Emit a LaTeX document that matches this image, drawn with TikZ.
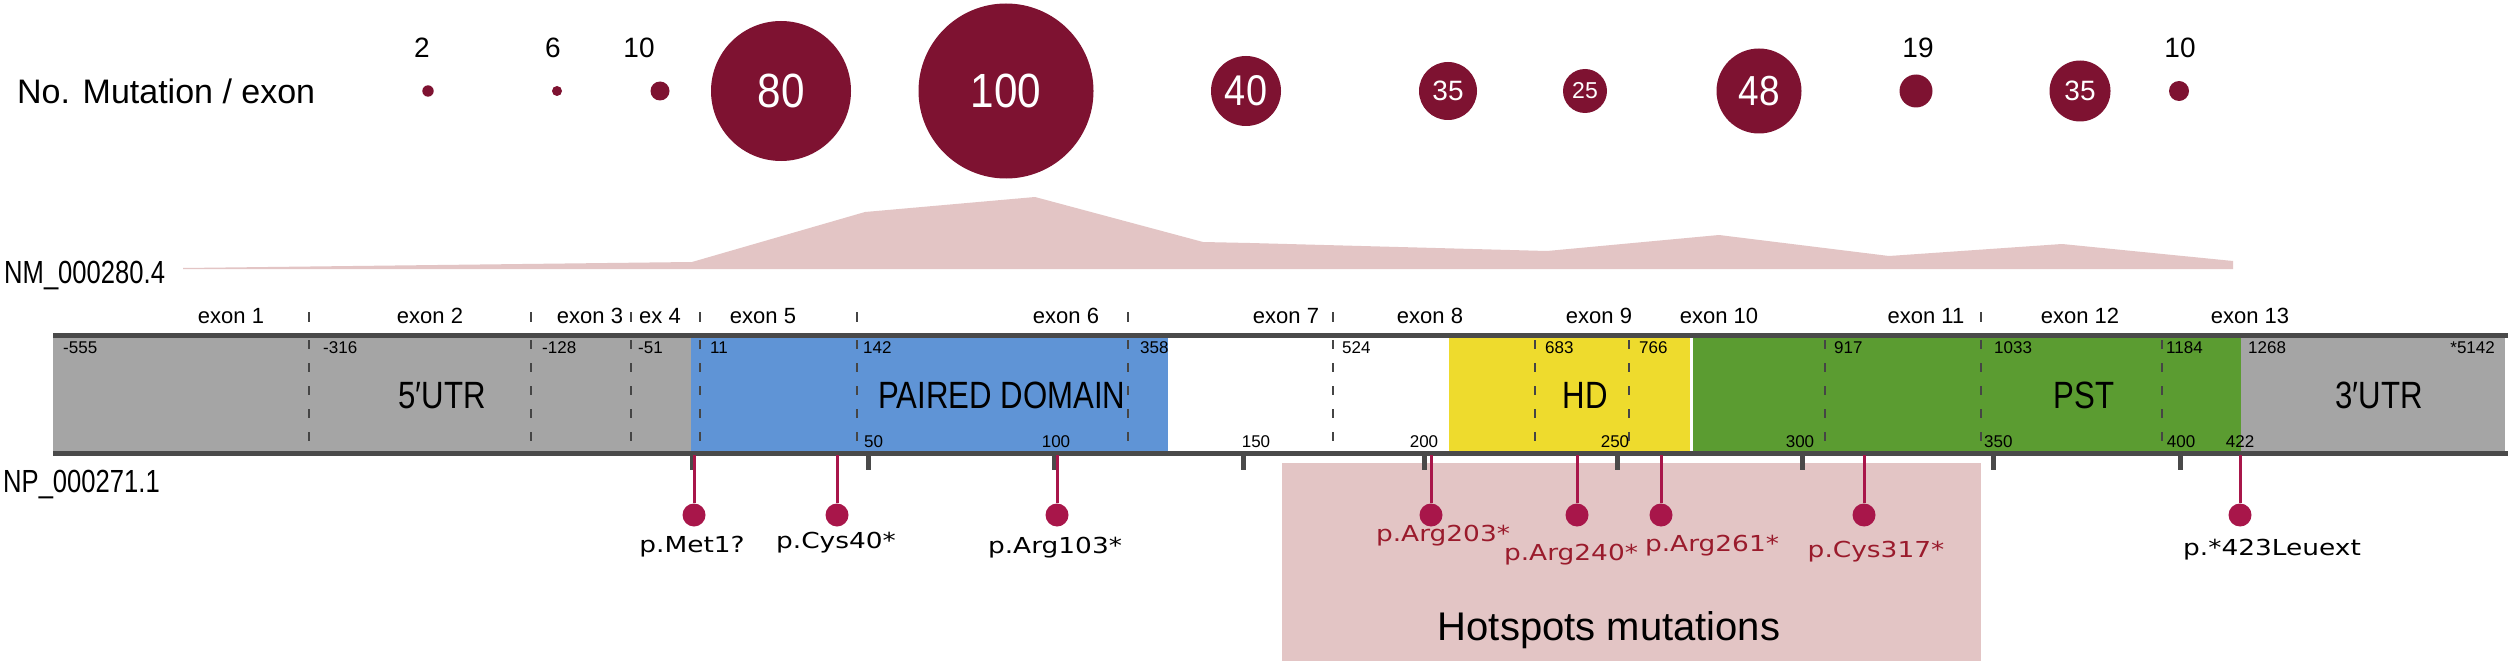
\documentclass[tikz,border=0pt]{standalone}
\usepackage{fontspec}
\setmainfont{Liberation Sans}
\newfontfamily\fcond[FakeStretch=0.82]{Liberation Sans}
\newfontfamily\fmid[FakeStretch=0.88]{Liberation Sans}
\newfontfamily\fnar[FakeStretch=0.8]{Liberation Sans}
\newfontfamily\flol[FakeStretch=1.2]{DejaVu Sans}
\newcommand{\myfs}[1]{\fontsize{#1}{#1}\selectfont}
\definecolor{circ}{HTML}{7E1231}
\definecolor{areac}{HTML}{E3C5C5}
\definecolor{grayf}{HTML}{A5A5A5}
\definecolor{bluef}{HTML}{5F94D6}
\definecolor{yellowf}{HTML}{EEDB2D}
\definecolor{greenf}{HTML}{5B9C31}
\definecolor{barc}{HTML}{4A4A4A}
\definecolor{dashc}{HTML}{454545}
\definecolor{lolc}{HTML}{A8164A}
\definecolor{mutred}{HTML}{9A1B2C}
\tikzset{
 cnt/.style={circle, fill=circ, inner sep=0pt, text=white},
 toplab/.style={anchor=base, inner sep=0pt, font=\myfs{28}},
 exlab/.style={anchor=base, inner sep=0pt, font=\myfs{22}},
 numlab/.style={anchor=base west, inner sep=0pt, font=\myfs{17}},
 pnum/.style={anchor=base, inner sep=0pt, font=\myfs{17}},
 domlab/.style={anchor=base, inner sep=0pt, font=\fcond\myfs{38}},
 dashln/.style={draw=dashc, line width=2.2pt, dash pattern=on 9pt off 14pt},
 exontick/.style={draw=dashc, line width=2.2pt},
 ptick/.style={draw=barc, line width=5pt},
 stick/.style={draw=lolc, line width=3pt},
 dot/.style={circle, fill=lolc, inner sep=0pt, minimum size=23pt},
 mutlab/.style={anchor=base, inner sep=0pt, font=\flol\myfs{22}},
 acc/.style={anchor=base west, inner sep=0pt, font=\fnar\myfs{32}},
}
\begin{document}
\begin{tikzpicture}[x=1pt,y=-1pt]
\useasboundingbox (0,0) rectangle (2508,666);
\fill[white] (0,0) rectangle (2508,666);

% ---- mutations per exon ----
\node[anchor=base west, inner sep=0pt, font=\myfs{34}] (title) at (17,104) {No. Mutation / exon};
\node[cnt, minimum size=11.4pt] (c1) at (428,91) {};
\node[cnt, minimum size=10pt] (c2) at (557,91) {};
\node[cnt, minimum size=19pt] (c3) at (660,91) {};
\node[cnt, minimum size=140pt, font=\fmid\myfs{48}] (c4) at (781,91) {80};
\node[cnt, minimum size=175pt, font=\fmid\myfs{48}] (c5) at (1006,91) {100};
\node[cnt, minimum size=70pt, font=\fmid\myfs{43}] (c6) at (1246,91) {40};
\node[cnt, minimum size=58pt, font=\myfs{28}] (c7) at (1448,91) {35};
\node[cnt, minimum size=44pt, font=\myfs{23}] (c8) at (1585,91) {25};
\node[cnt, minimum size=85pt, font=\fmid\myfs{42}] (c9) at (1759,91) {48};
\node[cnt, minimum size=33pt] (c10) at (1916,91) {};
\node[cnt, minimum size=61pt, font=\myfs{28}] (c11) at (2080,91) {35};
\node[cnt, minimum size=20pt] (c12) at (2179,91) {};
\node[toplab] (l1) at (422,58) {2};
\node[toplab] (l2) at (553,58) {6};
\node[toplab] (l3) at (639,58) {10};
\node[toplab] (l10) at (1918,58) {19};
\node[toplab] (l12) at (2180,58) {10};

% ---- transcript area chart ----
\fill[areac] (183,268) -- (692,262) -- (865,212) -- (1035,197) -- (1203,242) -- (1250,243)
  -- (1547,251) -- (1719,235) -- (1889,256) -- (2062,244) -- (2233,261) -- (2233,269) -- (183,269) -- cycle;
\node[acc] (nm) at (4,283) {NM\_000280.4};

% ---- exon labels ----
\foreach \nm/\cx/\t in {e1/231/exon 1, e2/430/exon 2, e3/590/exon 3, e4/660/ex 4, e5/763/exon 5,
  e6/1066/exon 6, e7/1286/exon 7, e8/1430/exon 8, e9/1599/exon 9, e10/1719/exon 10,
  e11/1926/exon 11, e12/2080/exon 12, e13/2250/exon 13}
  \node[exlab] (\nm) at (\cx,323) {\t};
\foreach \x in {309,531,631,700,857,1128,1333,1981}
  \draw[exontick] (\x,312) -- (\x,322);

% ---- hotspot box (behind) ----
\fill[areac] (1282,463) rectangle (1981,661);
\node[anchor=base, inner sep=0pt, font=\myfs{40}] (hot) at (1609,640) {Hotspots mutations};

% ---- gene bar ----
\fill[grayf] (53,337) rectangle (691,451);
\fill[bluef] (691,337) rectangle (1168,451);
\fill[yellowf] (1449,337) rectangle (1690,451);
\fill[greenf] (1693,337) rectangle (2241,451);
\fill[grayf] (2241,337) rectangle (2505,451);
\foreach \x in {309,531,631,700,857,1128,1333,1535,1629,1825,1981,2162}
  \draw[dashln] (\x,340) -- (\x,451);
\draw[draw=barc, line width=5pt] (53,335) -- (2508,335);
\draw[draw=barc, line width=5pt] (53,453) -- (2508,453);

% cDNA coordinates
\foreach \nm/\x/\t in {n1/63/-555, n2/323/-316, n3/542/-128, n4/638/-51, n5/710/11, n6/863/142,
  n7/1140/358, n8/1342/524, n9/1545/683, n10/1639/766, n11/1834/917, n12/1994/1033,
  n13/2166/1184, n14/2248/1268}
  \node[numlab] (\nm) at (\x,353) {\t};
\node[anchor=base east, inner sep=0pt, font=\myfs{17}] (n15) at (2495,353) {*5142};

% domain labels
\node[domlab] (utr5) at (442,408) {5′UTR};
\node[domlab] (pd) at (1002,408) {PAIRED DOMAIN};
\node[domlab] (hd) at (1585,408) {HD};
\node[domlab] (pst) at (2084,408) {PST};
\node[domlab] (utr3) at (2379,408) {3′UTR};

% protein coordinates
\node[numlab] (p50) at (864,447) {50};
\foreach \nm/\x/\t in {p100/1056/100, p150/1256/150, p200/1424/200, p250/1615/250,
  p300/1800/300, p400/2181/400, p422/2240/422}
  \node[pnum] (\nm) at (\x,447) {\t};
\node[numlab] (p350) at (1984,447) {350};
\foreach \x in {692,868,1054,1243,1424,1617,1802,1993,2180}
  \draw[ptick] (\x,455) -- (\x,470);
\node[acc] (np) at (3,492) {NP\_000271.1};

% ---- lollipops ----
\foreach \nm/\x in {m1/694, m2/837, m3/1057, m4/1431, m5/1577, m6/1661, m7/1864, m8/2240}{
  \coordinate (\nm t) at (\x,455);
  \node[dot] (\nm) at (\x,515) {};
  \draw[stick] (\nm t) -- (\nm);
}
\node[mutlab] (t1) at (692,552) {p.Met1?};
\node[mutlab] (t2) at (836,548) {p.Cys40*};
\node[mutlab] (t3) at (1055,553) {p.Arg103*};
\node[mutlab, text=mutred] (t4) at (1443,541) {p.Arg203*};
\node[mutlab, text=mutred] (t5) at (1571,560) {p.Arg240*};
\node[mutlab, text=mutred] (t6) at (1712,551) {p.Arg261*};
\node[mutlab, text=mutred] (t7) at (1876,557) {p.Cys317*};
\node[mutlab] (t8) at (2272,555) {p.*423Leuext};
\end{tikzpicture}
\end{document}
